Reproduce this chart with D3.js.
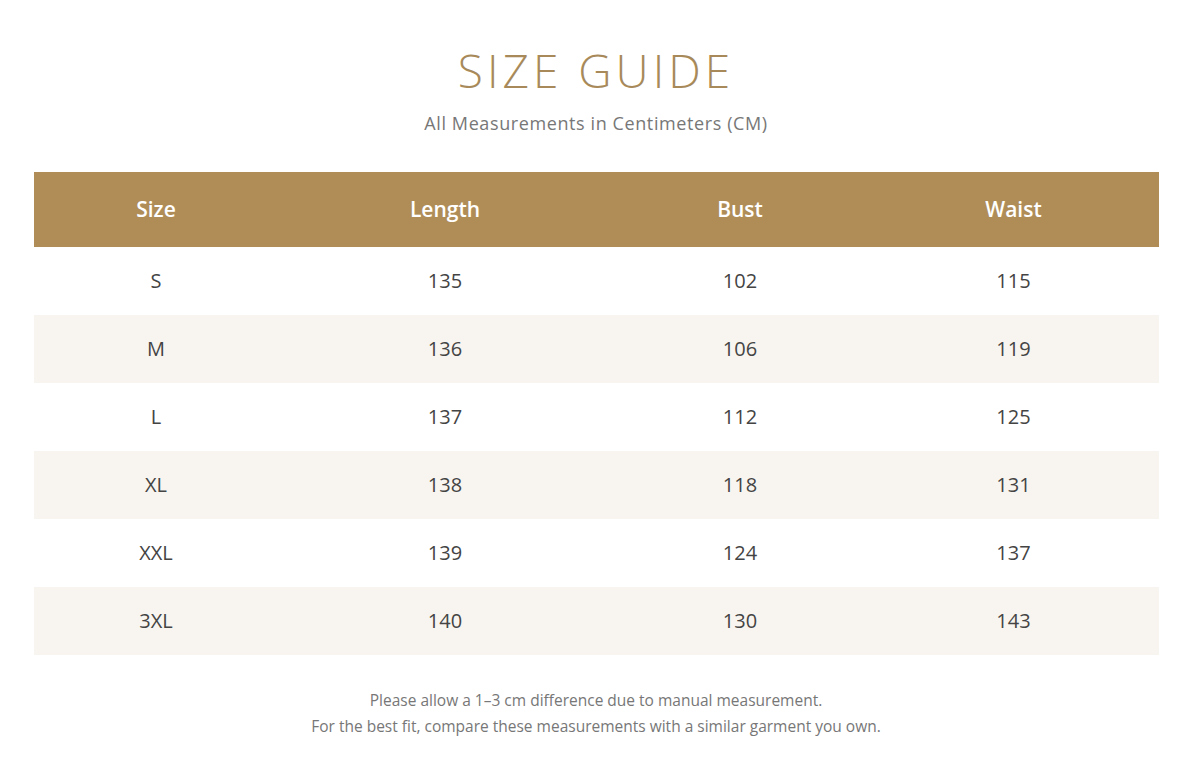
<!DOCTYPE html>
<html><head><meta charset="utf-8">
<script src="https://cdn.jsdelivr.net/npm/d3@7"></script>
<style>body{margin:0;background:#fff}svg{display:block}</style>
</head><body>
<svg id="c" width="1192" height="765"></svg>
<script>
const columns = ["Size","Length","Bust","Waist"];
const sizes = ["S","M","L","XL","XXL","3XL"];
const lengthVals = [135,136,137,138,139,140];
const bustVals = [102,106,112,118,124,130];
const waistVals = [115,119,125,131,137,143];
const colWeights = [244,334,256,291];
const notes = ["Please allow a 1–3 cm difference due to manual measurement.",
  "For the best fit, compare these measurements with a similar garment you own."];

const rows = sizes.map((s,i)=>[s,lengthVals[i],bustVals[i],waistVals[i]]);
const svg = d3.select("#c");
const font = "'Open Sans', 'Noto Sans', sans-serif";
const gold = "#b08d57";

const left = 34, right = 1159;
const total = d3.sum(colWeights);
const cum = d3.cumsum([0, ...colWeights]);
const xs = d3.scaleLinear().domain([0,total]).range([left,right]);
const colCenter = j => xs((cum[j]+cum[j+1])/2);

const headTop = 172, headH = 75, rowH = 68;
const y = d3.scaleBand().domain(d3.range(rows.length)).range([headTop+headH, headTop+headH+rowH*rows.length]).padding(0);

svg.append("text").attr("x",596).attr("y",88).attr("text-anchor","middle")
  .attr("font-family",font).attr("font-weight",300).attr("font-size",46)
  .attr("letter-spacing",4).attr("fill","#a88a5a").text("SIZE GUIDE");
svg.append("text").attr("x",596).attr("y",130).attr("text-anchor","middle")
  .attr("font-family",font).attr("font-size",18).attr("letter-spacing",0.6)
  .attr("fill","#777").text("All Measurements in Centimeters (CM)");

svg.append("rect").attr("x",left).attr("y",headTop).attr("width",right-left).attr("height",headH).attr("fill",gold);
svg.selectAll(".h").data(columns).join("text")
  .attr("x",(d,j)=>colCenter(j)).attr("y",headTop+headH/2+7).attr("text-anchor","middle")
  .attr("font-family",font).attr("font-weight",600).attr("font-size",21).attr("fill","#fff").text(d=>d);

const g = svg.selectAll(".r").data(rows).join("g");
g.append("rect").attr("x",left).attr("y",(d,i)=>y(i)).attr("width",right-left).attr("height",y.bandwidth())
  .attr("fill",(d,i)=>i%2?"#f8f5f0":"#fff");
g.selectAll("text").data((d,i)=>d.map(v=>({v,i}))).join("text")
  .attr("x",(d,j)=>colCenter(j)).attr("y",d=>y(d.i)+y.bandwidth()/2+7).attr("text-anchor","middle")
  .attr("font-family",font).attr("font-size",20).attr("fill","#444").text(d=>d.v);

svg.selectAll(".n").data(notes).join("text")
  .attr("x",596).attr("y",(d,i)=>706+i*26).attr("text-anchor","middle")
  .attr("font-family",font).attr("font-size",15.5).attr("fill","#777").text(d=>d);
</script>
</body></html>
